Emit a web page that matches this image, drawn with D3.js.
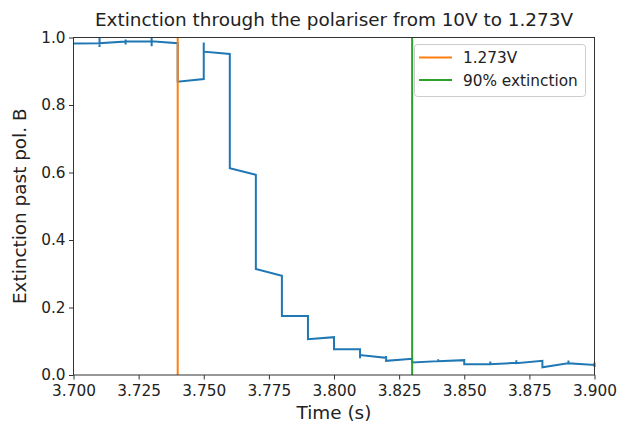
<!DOCTYPE html>
<html><head><meta charset="utf-8">
<script src="https://cdn.jsdelivr.net/npm/d3@7"></script>
<style>body{margin:0;background:#fff}svg{display:block;font-family:"DejaVu Sans",sans-serif}</style>
</head><body><svg id="c" width="617" height="425"></svg>
<script>
// Measured signal (time in s, extinction); repeated times are the short vertical jumps/spikes
const time = [3.700,3.710,3.710,3.710,3.710, 3.720,3.720,3.720,3.720, 3.730,3.730,3.730,3.730,
  3.740,3.740, 3.750,3.750,3.750, 3.760,3.760, 3.770,3.770, 3.780,3.780, 3.790,3.790, 3.800,3.800,
  3.810,3.810,3.810,3.810, 3.820,3.820,3.820, 3.830,3.830, 3.840,3.840,3.840, 3.850,3.850,
  3.860,3.860,3.860, 3.870,3.870,3.870, 3.880,3.880, 3.890,3.890,3.890, 3.900,3.900,3.900];
const extinction = [0.982,0.983,1.000,0.972,0.983, 0.988,0.994,0.979,0.988, 0.989,1.000,0.974,0.989,
  0.983,0.869, 0.877,0.985,0.958, 0.951,0.613, 0.593,0.314, 0.294,0.175, 0.175,0.106, 0.112,0.076,
  0.076,0.068,0.050,0.059, 0.051,0.056,0.042, 0.048,0.037, 0.041,0.047,0.041, 0.044,0.032,
  0.032,0.040,0.032, 0.036,0.044,0.035, 0.042,0.023, 0.035,0.043,0.035, 0.030,0.037,0.024];
const markerLabels = ["1.273V", "90% extinction"];
const markerTimes = [3.74, 3.83];
const markerColors = ["#ff7f0e", "#2ca02c"];
const xTicks = [3.700,3.725,3.750,3.775,3.800,3.825,3.850,3.875,3.900];
const yTicks = [0.0,0.2,0.4,0.6,0.8,1.0];
const titleText = "Extinction through the polariser from 10V to 1.273V";
const xLabel = "Time (s)", yLabel = "Extinction past pol. B";

const svg = d3.select("#c");
const L = 73.5, R = 594.5, T = 37.5, B = 375;
const x = d3.scaleLinear().domain([3.70, 3.90]).range([L, R]);
const y = d3.scaleLinear().domain([0, 1]).range([B, T]);

const pts = time.map((t, i) => [t, extinction[i]]);
svg.append("path").datum(pts)
  .attr("d", d3.line().x(d => x(d[0])).y(d => y(d[1])))
  .attr("fill", "none").attr("stroke", "#1f77b4").attr("stroke-width", 2)
  .attr("stroke-linejoin", "miter");

markerTimes.forEach((t, i) => {
  svg.append("line").attr("x1", x(t)).attr("x2", x(t)).attr("y1", y(0)).attr("y2", y(1))
    .attr("stroke", markerColors[i]).attr("stroke-width", 2);
});

const xAxis = svg.append("g").attr("transform", `translate(0,${B})`)
  .call(d3.axisBottom(x).tickValues(xTicks).tickFormat(d3.format(".3f")).tickSizeOuter(0).tickSize(4.5).tickPadding(5.5));
const yAxis = svg.append("g").attr("transform", `translate(${L},0)`)
  .call(d3.axisLeft(y).tickValues(yTicks).tickFormat(d3.format(".1f")).tickSizeOuter(0).tickSize(4.5).tickPadding(3.5));
[xAxis, yAxis].forEach(g => {
  g.select(".domain").remove();
  g.selectAll("line").attr("stroke", "#333");
  g.selectAll("text").attr("font-size", 15.3).attr("fill", "#222").attr("font-family", "DejaVu Sans");
});

svg.append("rect").attr("x", L).attr("y", T).attr("width", R - L).attr("height", B - T)
  .attr("fill", "none").attr("stroke", "#333").attr("stroke-width", 1);

svg.append("text").attr("x", (L + R) / 2).attr("y", 26).attr("text-anchor", "middle")
  .attr("font-size", 18.4).attr("fill", "#222").text(titleText);
svg.append("text").attr("x", (L + R) / 2).attr("y", 419).attr("text-anchor", "middle")
  .attr("font-size", 18.4).attr("fill", "#222").text(xLabel);
svg.append("text").attr("transform", `translate(26,${(T + B) / 2}) rotate(-90)`).attr("text-anchor", "middle")
  .attr("font-size", 18.4).attr("fill", "#222").text(yLabel);

const lg = svg.append("g");
lg.append("rect").attr("x", 414.5).attr("y", 44.5).attr("width", 171).attr("height", 52).attr("rx", 3)
  .attr("fill", "#fff").attr("fill-opacity", 0.8).attr("stroke", "#ccc");
markerLabels.forEach((lab, i) => {
  const yy = 57.5 + i * 22.5;
  lg.append("line").attr("x1", 419).attr("x2", 452).attr("y1", yy).attr("y2", yy)
    .attr("stroke", markerColors[i]).attr("stroke-width", 2);
  lg.append("text").attr("x", 463).attr("y", yy + 5.5).attr("font-size", 15.3).attr("fill", "#222").text(lab);
});
</script></body></html>
